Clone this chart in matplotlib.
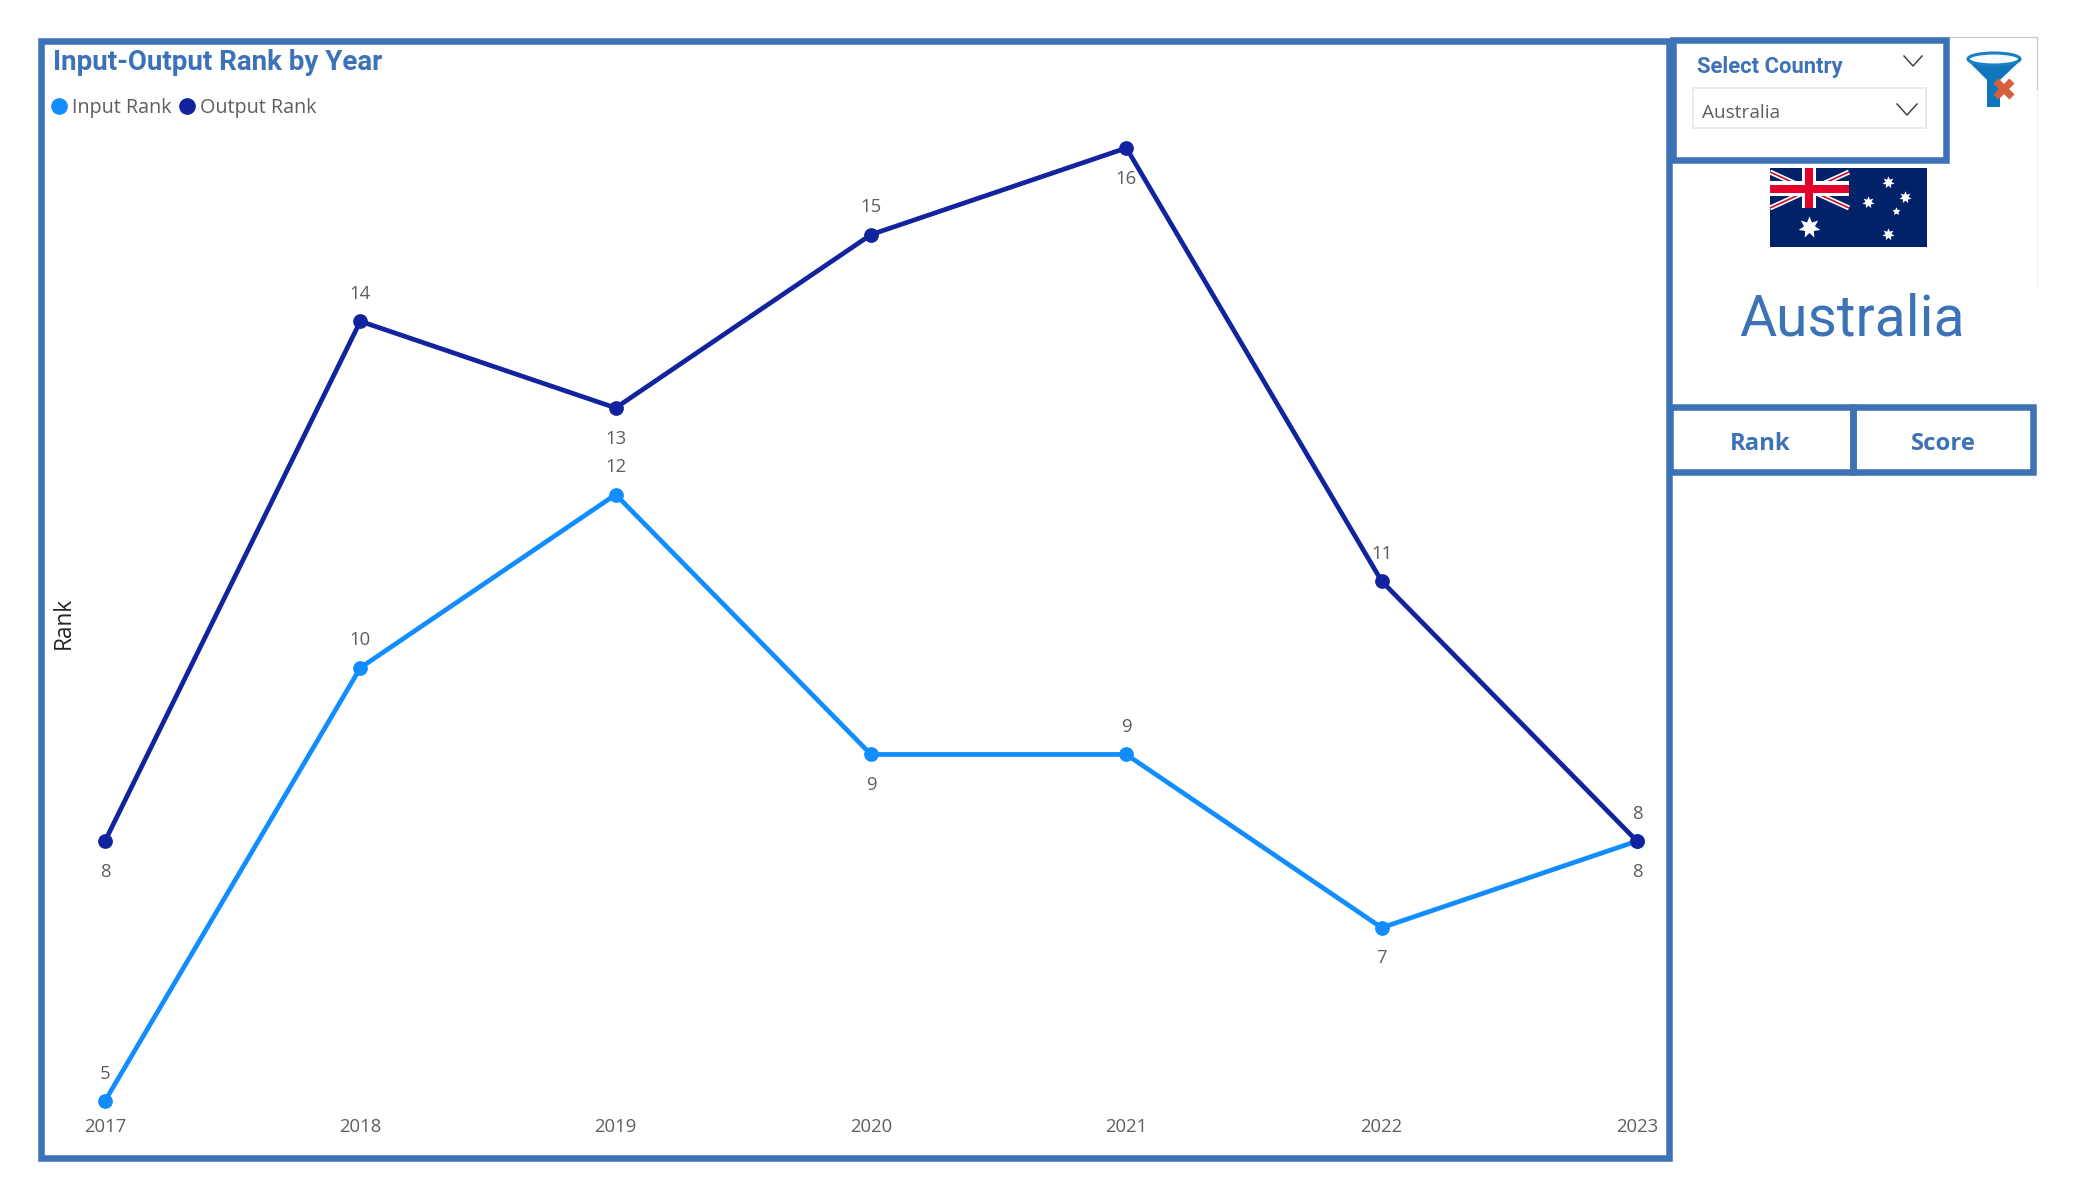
import matplotlib
matplotlib.use('Agg')
import matplotlib.pyplot as plt
from matplotlib.lines import Line2D
from matplotlib.patches import Rectangle, Polygon, Ellipse

# Input-output rank chart, Power BI style page

years = [2017, 2018, 2019, 2020, 2021, 2022, 2023]
inputRank = [5, 10, 12, 9, 9, 7, 8]
outputRank = [8, 14, 13, 15, 16, 11, 8]
inputLabelSide = [1, 1, 1, -1, 1, -1, -1]
outputLabelSide = [-1, 1, -1, 1, -1, 1, 1]

countryName = 'Australia'
chartTitle = 'Input-Output Rank by Year'

W, H = 2075, 1200
frameCol = '#3D72B7'
inputCol = '#118DFF'
outputCol = '#12239E'
textCol = '#605E5C'
frameLw = 4.7

fig = plt.figure(figsize=(W / 100, H / 100), dpi=100)

# Page furniture is laid out in pixels on a full size axes
ui = fig.add_axes([0, 0, 1, 1], zorder=0)
ui.set_xlim(0, W)
ui.set_ylim(H, 0)
ui.axis('off')


def box(x0, y0, x1, y1, col=frameCol, lw=frameLw, z=3):
    ui.add_patch(Rectangle((x0, y0), x1 - x0, y1 - y0, fill=False, ec=col, lw=lw,
                           joinstyle='miter', zorder=z))


def chevron(x0, x1, y0, y1):
    ui.plot([x0, (x0 + x1) / 2, x1], [y0, y1, y0], color='#444444', lw=1.1, zorder=4)


# thin grey outline behind the clear filter button
ui.plot([1948, 2037, 2037], [37, 37, 90], color='#C8C8C8', lw=0.9, zorder=1)
ui.plot([2037, 2037], [90, 288], color='#F0F0F0', lw=0.9, zorder=1)

box(40.5, 40.5, 1669, 1157.5)
box(1673, 40, 1945.5, 159.5)
box(1670, 407, 1852.5, 472)
box(1852.5, 407, 2033, 472)
box(1693, 88, 1926, 128, col='#E8E8E8', lw=1.2)

ui.text(53, 63, chartTitle, color=frameCol, fontsize=20, fontweight='bold',
        family='Roboto', va='center', ha='left')
ui.text(1697, 66.5, 'Select Country', color=frameCol, fontsize=15.8, fontweight='bold',
        family='Roboto', va='center', ha='left')
ui.text(1702, 113.5, countryName, color=textCol, fontsize=13.7, family='Open Sans',
        va='center', ha='left')
ui.text(1851.5, 320, countryName, color=frameCol, fontsize=41, family='Roboto',
        va='center', ha='center')
ui.text(1760.5, 444, 'Rank', color=frameCol, fontsize=17.2, fontweight='bold',
        family='Open Sans', va='center', ha='center')
ui.text(1943.5, 444, 'Score', color=frameCol, fontsize=17.2, fontweight='bold',
        family='Open Sans', va='center', ha='center')
chevron(1904, 1922, 56, 66)
chevron(1897, 1917, 104, 115)

# flag
ui.add_patch(Rectangle((1770, 168), 157, 79, fc='#012169', ec='none', zorder=2))
for a, b, c, d, w in [(1770, 172, 1849, 208, 3.6), (1770, 208, 1849, 172, 3.6)]:
    ui.plot([a, c], [b, d], color='white', lw=w, solid_capstyle='butt', zorder=2.1)
    ui.plot([a, c], [b, d], color='#C8102E', lw=1.2, solid_capstyle='butt', zorder=2.2)
ui.add_patch(Rectangle((1770, 181), 79, 15, fc='white', ec='none', zorder=2.3))
ui.add_patch(Rectangle((1802, 168), 14, 40, fc='white', ec='none', zorder=2.3))
ui.add_patch(Rectangle((1770, 185), 79, 8, fc='#E4002B', ec='none', zorder=2.4))
ui.add_patch(Rectangle((1805, 168), 8, 40, fc='#E4002B', ec='none', zorder=2.4))
for sx, sy, ms, pts in [(1809, 227, 16, 7), (1888, 182, 9, 7), (1905, 197, 9, 7),
                        (1868, 202, 9, 7), (1896, 211, 6, 5), (1888, 234, 9, 7)]:
    ui.plot(sx, sy, marker=(pts, 1, 0), ms=ms, color='white', mew=0, zorder=2.5)

# clear filter icon
ui.add_patch(Polygon([[1967, 60], [2021, 60], [2000, 80], [2000, 107], [1987, 107], [1987, 80]],
                     fc='#0F75BC', ec='none', zorder=2))
ui.add_patch(Ellipse((1994, 59), 52, 12, fc='#F4FAFD', ec='#1A7FC0', lw=2.2, zorder=2.1))
ui.plot([1996, 2012], [81, 97], color='#D5603F', lw=5.2, zorder=2.2, solid_capstyle='butt')
ui.plot([1996, 2012], [97, 81], color='#D5603F', lw=5.2, zorder=2.2, solid_capstyle='butt')

# Chart
ax = fig.add_axes([105 / W, 1 - 1101 / H, (1637 - 105) / W, (1101 - 148) / H], zorder=2)
ax.patch.set_alpha(0)
ax.set_xlim(years[0], years[-1])
ax.set_ylim(5, 16)
for s in ax.spines.values():
    s.set_visible(False)

ax.plot(years, inputRank, color=inputCol, lw=3.4, marker='o', ms=9.6, clip_on=False, zorder=3)
ax.plot(years, outputRank, color=outputCol, lw=3.4, marker='o', ms=9.6, clip_on=False, zorder=4)

for vals, sides in [(inputRank, inputLabelSide), (outputRank, outputLabelSide)]:
    for yr, v, side in zip(years, vals, sides):
        ax.annotate(str(v), (yr, v), xytext=(0, 20.9 * side - 1.2), textcoords='offset points',
                    ha='center', va='center', fontsize=13.3, color=textCol,
                    family='Open Sans', zorder=5)

ax.set_xticks(years)
ax.set_xticklabels([str(y) for y in years], fontsize=13.3, color=textCol, family='Open Sans')
ax.tick_params(axis='x', length=0, pad=12.3)
ax.set_yticks([])
ax.set_ylabel('Rank', fontsize=16.3, color='#252423', family='Open Sans', rotation=90)
ax.yaxis.set_label_coords(-0.0188, 0.5016)

handles = [Line2D([], [], ls='none', marker='o', ms=11, color=inputCol),
           Line2D([], [], ls='none', marker='o', ms=11, color=outputCol)]
leg = fig.legend(handles, ['Input Rank', 'Output Rank'], ncol=2, frameon=False,
                 loc='center left', bbox_to_anchor=(50.5 / W, 1 - 108 / H),
                 borderaxespad=0, borderpad=0, handlelength=0.9, handletextpad=0.2,
                 columnspacing=0.35,
                 prop={'family': 'Open Sans', 'size': 14.2})
for t in leg.get_texts():
    t.set_color(textCol)

plt.savefig('out.png', dpi=100)
